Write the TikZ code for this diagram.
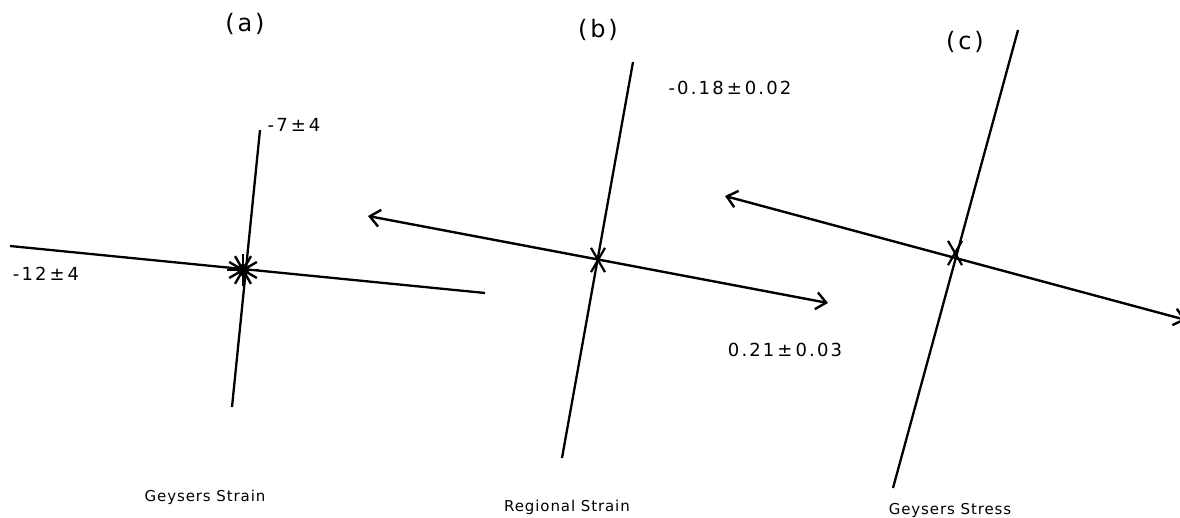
\documentclass[tikz,border=0pt]{standalone}
\usepackage{fontspec}
\setmainfont{DejaVu Sans}[LetterSpace=12]
\newfontfamily\capfont{DejaVu Sans}[LetterSpace=6]
\usetikzlibrary{arrows.meta}
\begin{document}
\begin{tikzpicture}[x=1pt,y=-1pt,
  axis/.style={line width=2.3pt},
  arr/.style={line width=2.4pt,{Straight Barb[length=10pt,width=17pt,line width=2.4pt]}-{Straight Barb[length=10pt,width=17pt,line width=2.4pt]}},
  lab/.style={font=\fontsize{18}{21}\selectfont},
  ttl/.style={font=\fontsize{24}{28}\selectfont},
  captxt/.style={font=\capfont\fontsize{15}{18}\selectfont}]
\useasboundingbox (0,0) rectangle (1180,518);
% panel (a)
\coordinate (a1) at (260,130);
\coordinate (a2) at (232,407);
\coordinate (a3) at (10,246);
\coordinate (a4) at (485,293);
\coordinate (ac) at (243,270);
\draw[axis] (a1) -- (a2);
\draw[axis] (a3) -- (a4);
\foreach \ang in {0,30,...,330} \draw[line width=2.4pt] (ac) -- ++(\ang:16);
\fill (ac) circle (6);
\node[lab] (at) at (294,125) {-7\,±\,4};
\node[lab] (al) at (46,274) {-12\,±\,4};
\node[ttl] (ah) at (245,24) {(a)};
\node[captxt] (ac2) at (205,497) {Geysers Strain};
% panel (b)
\coordinate (b1) at (633,62);
\coordinate (b2) at (562,458);
\coordinate (b3) at (368,216);
\coordinate (b4) at (828,303);
\coordinate (bc) at (598,260);
\draw[axis] (b1) -- (b2);
\draw[arr] (b3) -- (b4);
\foreach \ang in {60,120,240,300} \draw[line width=2.2pt] (bc) -- ++(\ang:14);
\node[lab] (bt) at (730,88) {-0.18\,±\,0.02};
\node[lab] (bl) at (785,350) {0.21\,±\,0.03};
\node[ttl] (bh) at (598,30) {(b)};
\node[captxt] (bc2) at (567,507) {Regional Strain};
% panel (c)
\coordinate (c1) at (1018,30);
\coordinate (c2) at (893,488);
\coordinate (c3) at (725,196);
\coordinate (c4) at (1186,320);
\coordinate (cc) at (955,253);
\draw[axis] (c1) -- (c2);
\draw[arr] (c3) -- (c4);
\foreach \ang in {60,120,240,300} \draw[line width=2.2pt] (cc) -- ++(\ang:14);
\node[ttl] (ch) at (965,42) {(c)};
\node[captxt] (cc2) at (950,510) {Geysers Stress};
\end{tikzpicture}
\end{document}
